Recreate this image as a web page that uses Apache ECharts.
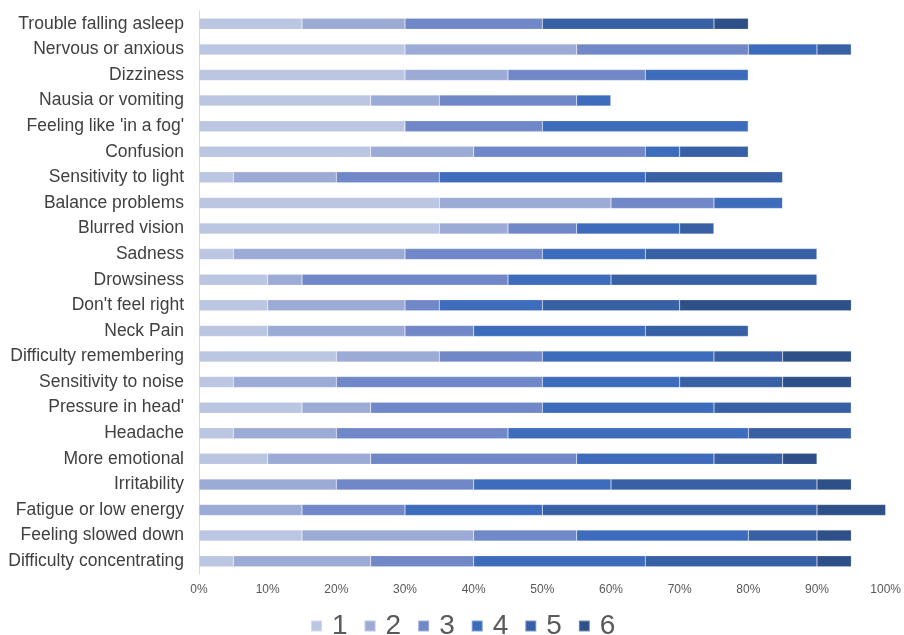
<!DOCTYPE html>
<html>
<head>
<meta charset="utf-8">
<script src="https://cdn.jsdelivr.net/npm/echarts@6/dist/echarts.min.js"></script>
<style>
  html, body { margin: 0; padding: 0; background: #fff; }
  #chart { width: 904px; height: 635px; }
</style>
</head>
<body>
<div id="chart"></div>
<script>
// Symptom categories, top to bottom
const categories = [
  "Trouble falling asleep", "Nervous or anxious", "Dizziness", "Nausia or vomiting",
  "Feeling like 'in a fog'", "Confusion", "Sensitivity to light", "Balance problems",
  "Blurred vision", "Sadness", "Drowsiness", "Don't feel right", "Neck Pain",
  "Difficulty remembering", "Sensitivity to noise", "Pressure in head'", "Headache",
  "More emotional", "Irritability", "Fatigue or low energy", "Feeling slowed down",
  "Difficulty concentrating"
];

// Share of responses (%) for each rating level, one value per category
const rating1 = [15, 30, 30, 25, 30, 25, 5, 35, 35, 5, 10, 10, 10, 20, 5, 15, 5, 10, 0, 0, 15, 5];
const rating2 = [15, 25, 15, 10, 0, 15, 15, 25, 10, 25, 5, 20, 20, 15, 15, 10, 15, 15, 20, 15, 25, 20];
const rating3 = [20, 25, 20, 20, 20, 25, 15, 15, 10, 20, 30, 5, 10, 15, 30, 25, 25, 30, 20, 15, 15, 15];
const rating4 = [0, 10, 15, 5, 30, 5, 30, 10, 15, 15, 15, 15, 25, 25, 20, 25, 35, 20, 20, 20, 25, 25];
const rating5 = [25, 5, 0, 0, 0, 10, 20, 0, 5, 25, 30, 20, 15, 10, 15, 20, 15, 10, 30, 40, 10, 25];
const rating6 = [5, 0, 0, 0, 0, 0, 0, 0, 0, 0, 0, 25, 0, 10, 10, 0, 0, 5, 5, 10, 5, 5];

const seriesNames = ["1", "2", "3", "4", "5", "6"];
const seriesData = [rating1, rating2, rating3, rating4, rating5, rating6];
const palette = ["#bac6e2", "#9caad6", "#7088c7", "#3c6cbb", "#3861a5", "#2e5089"];

const chart = echarts.init(document.getElementById("chart"), null, { renderer: "canvas" });

chart.setOption({
  animation: false,
  color: palette,
  textStyle: { fontFamily: "Liberation Sans, Arial, sans-serif" },
  grid: { left: 199, right: 18, top: 11, bottom: 61, containLabel: false },
  legend: {
    left: 305,
    top: 607,
    itemWidth: 11,
    itemHeight: 11,
    itemGap: 16,
    icon: "rect",
    textStyle: { fontSize: 28, color: "#595959", padding: [0, 0, 0, 5] },
    data: seriesNames
  },
  xAxis: {
    type: "value",
    min: 0,
    max: 100,
    interval: 10,
    axisLine: { show: false },
    axisTick: { show: false },
    splitLine: { show: false },
    axisLabel: {
      formatter: "{value}%",
      fontSize: 12,
      color: "#595959",
      margin: 10
    }
  },
  yAxis: {
    type: "category",
    inverse: true,
    data: categories,
    axisLine: { show: true, lineStyle: { color: "#d9d9d9", width: 1 } },
    axisTick: { show: false },
    axisLabel: { fontSize: 17.5, color: "#404040", margin: 15 }
  },
  series: seriesData.map((values, i) => ({
    name: seriesNames[i],
    type: "bar",
    stack: "total",
    barWidth: 11,
    data: values,
    itemStyle: { borderColor: "rgba(255,255,255,0.35)", borderWidth: 0.5 }
  }))
});
</script>
</body>
</html>
